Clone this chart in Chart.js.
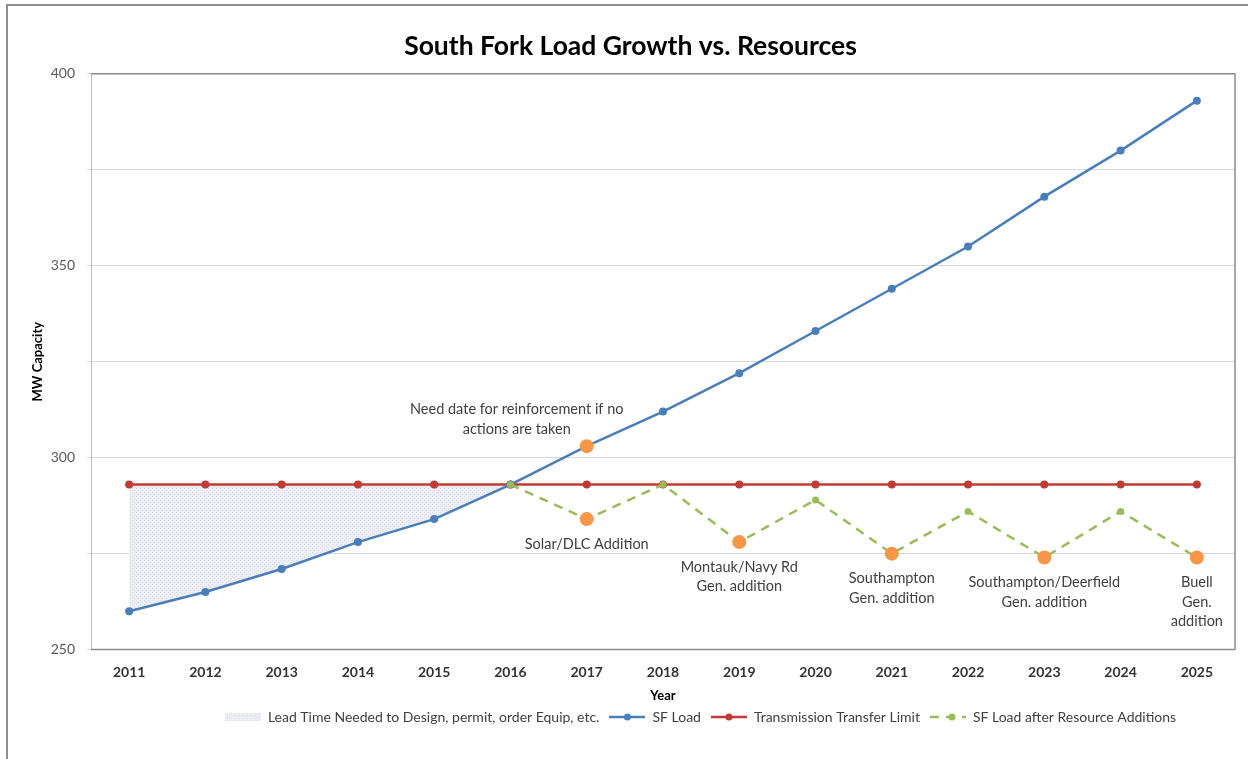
<!DOCTYPE html>
<html>
<head>
<meta charset="utf-8">
<title>South Fork Load Growth vs. Resources</title>
<script src="https://cdn.jsdelivr.net/npm/chart.js@4.4.1/dist/chart.umd.min.js"></script>
<style>
  html, body { margin: 0; padding: 0; background: #fff; }
  #wrap { width: 1248px; height: 759px; }
</style>
</head>
<body>
<div id="wrap"><canvas id="loadChart" width="1248" height="759"></canvas></div>
<script>
// chart data
const years = ['2011', '2012', '2013', '2014', '2015', '2016', '2017', '2018', '2019', '2020', '2021', '2022', '2023', '2024', '2025'];
const sfLoad = [260, 265, 271, 278, 284, 293, 303, 312, 322, 333, 344, 355, 368, 380, 393];
const transferLimit = [293, 293, 293, 293, 293, 293, 293, 293, 293, 293, 293, 293, 293, 293, 293];
const afterAdditions = [null, null, null, null, null, 293, 284, 293, 278, 289, 275, 286, 274, 286, 274];
const leadTimeEnd = '2016';

const needDateYear = '2017';
const needDateLabel = ['Need date for reinforcement if no', 'actions are taken'];
const additionYears = ['2017', '2019', '2021', '2023', '2025'];
const additionLabels = [
  ['Solar/DLC Addition'],
  ['Montauk/Navy Rd', 'Gen. addition'],
  ['Southampton', 'Gen. addition'],
  ['Southampton/Deerfield', 'Gen. addition'],
  ['Buell', 'Gen.', 'addition']
];

const FONT = 'Lato, "Open Sans", sans-serif';
const BLUE = '#4a7ebb';
const RED = '#be3b36';
const GREEN = '#9bbb59';
const ORANGE = '#f79646';
const TEXT = '#404040';

// shaded lead time region = transfer limit up to the lead time end year
const leadIdx = years.indexOf(leadTimeEnd);
const leadTime = transferLimit.map((v, i) => i <= leadIdx ? v : null);

// light lavender dotted fill
function makeHatch() {
  const c = document.createElement('canvas');
  c.width = 4; c.height = 4;
  const g = c.getContext('2d');
  g.fillStyle = '#ededf4';
  g.fillRect(0, 0, 4, 4);
  g.fillStyle = '#dadae6';
  g.fillRect(0, 0, 1, 1);
  g.fillRect(2, 2, 1, 1);
  return g.createPattern(c, 'repeat');
}
const hatch = makeHatch();

// legend swatches
function legendIcon(kind) {
  const c = document.createElement('canvas');
  c.width = 36; c.height = 10;
  const g = c.getContext('2d');
  if (kind === 'fill') {
    g.fillStyle = hatch;
    g.fillRect(0, 1, 36, 8);
    return c;
  }
  const color = kind === 'blue' ? BLUE : kind === 'red' ? RED : GREEN;
  g.strokeStyle = color;
  g.lineWidth = 2.5;
  if (kind === 'green') g.setLineDash([9, 7]);
  g.beginPath();
  g.moveTo(0, 5); g.lineTo(36, 5);
  g.stroke();
  g.fillStyle = color;
  g.beginPath();
  g.arc(kind === 'green' ? 22 : 18, 5, 3.5, 0, Math.PI * 2);
  g.fill();
  return c;
}

const isAddition = i => additionYears.includes(years[i]);

// white background, outer frame and plot border
const framePlugin = {
  id: 'frame',
  beforeDraw(chart) {
    const ctx = chart.ctx;
    ctx.save();
    ctx.fillStyle = '#fff';
    ctx.fillRect(0, 0, chart.width, chart.height);
    ctx.strokeStyle = '#8f8f8f';
    ctx.lineWidth = 2;
    ctx.beginPath();
    ctx.moveTo(7, chart.height);
    ctx.lineTo(7, 5);
    ctx.lineTo(chart.width, 5);
    ctx.stroke();
    ctx.restore();
  },
  beforeDatasetsDraw(chart) {
    const {ctx, chartArea: a} = chart;
    ctx.save();
    ctx.strokeStyle = '#8c8c8c';
    ctx.lineWidth = 1.5;
    ctx.beginPath();
    ctx.moveTo(a.left, a.top);
    ctx.lineTo(a.right, a.top);
    ctx.lineTo(a.right, a.bottom);
    ctx.lineTo(a.left, a.bottom);
    ctx.stroke();
    ctx.restore();
  }
};

// text callouts under the resource addition points
const calloutPlugin = {
  id: 'callouts',
  afterDatasetsDraw(chart) {
    const {ctx, scales: {x, y}} = chart;
    ctx.save();
    ctx.font = '14.5px ' + FONT;
    ctx.fillStyle = TEXT;
    ctx.textAlign = 'center';
    ctx.textBaseline = 'middle';

    const ni = years.indexOf(needDateYear);
    const nx = x.getPixelForValue(ni) - 70;
    const ny = y.getPixelForValue(sfLoad[ni]);
    needDateLabel.forEach((t, k) => ctx.fillText(t, nx, ny - 37 + k * 20));

    additionYears.forEach((yr, j) => {
      const i = years.indexOf(yr);
      const px = x.getPixelForValue(i);
      const py = y.getPixelForValue(afterAdditions[i]);
      additionLabels[j].forEach((t, k) => ctx.fillText(t, px, py + 25 + k * 19.5));
    });
    ctx.restore();
  }
};

// center the title over the plot and nudge the legend row right
const blockShift = {
  id: 'blockShift',
  afterLayout(chart) {
    chart.titleBlock.left += 13;
    chart.titleBlock.right += 13;
    chart.legend.left += 83;
    chart.legend.right += 83;
  }
};

new Chart(document.getElementById('loadChart'), {
  type: 'line',
  data: {
    labels: years,
    datasets: [
      {
        label: 'Lead Time Needed to Design, permit, order Equip, etc.',
        data: leadTime,
        borderWidth: 0,
        pointRadius: 0,
        backgroundColor: hatch,
        fill: 1,
        order: 4
      },
      {
        label: 'SF Load',
        data: sfLoad,
        borderColor: BLUE,
        borderWidth: 2.5,
        pointRadius: ctx => years[ctx.dataIndex] === needDateYear ? 7 : 4,
        pointBackgroundColor: ctx => years[ctx.dataIndex] === needDateYear ? ORANGE : BLUE,
        pointBorderWidth: 0,
        fill: false,
        order: 2
      },
      {
        label: 'Transmission Transfer Limit',
        data: transferLimit,
        borderColor: RED,
        borderWidth: 2.5,
        pointRadius: 4,
        pointBackgroundColor: RED,
        pointBorderWidth: 0,
        fill: false,
        order: 3
      },
      {
        label: 'SF Load after Resource Additions',
        data: afterAdditions,
        borderColor: GREEN,
        borderWidth: 2.5,
        borderDash: [9, 7],
        pointRadius: ctx => isAddition(ctx.dataIndex) ? 7 : 3.5,
        pointBackgroundColor: ctx => isAddition(ctx.dataIndex) ? ORANGE : GREEN,
        pointBorderWidth: 0,
        fill: false,
        order: 1
      }
    ]
  },
  options: {
    responsive: false,
    animation: false,
    layout: { padding: { left: 0, right: 13, top: 0, bottom: 25 } },
    plugins: {
      title: {
        display: true,
        text: 'South Fork Load Growth vs. Resources',
        color: '#000',
        font: { family: FONT, size: 26.5, weight: 'bold' },
        padding: { top: 31, bottom: 11 }
      },
      legend: {
        position: 'bottom',
        labels: {
          color: TEXT,
          font: { family: FONT, size: 14 },
          usePointStyle: true,
          pointStyleWidth: 36,
          padding: 10,
          generateLabels: () => [
            ['Lead Time Needed to Design, permit, order Equip, etc.', 'fill', 0],
            ['SF Load', 'blue', 1],
            ['Transmission Transfer Limit', 'red', 2],
            ['SF Load after Resource Additions', 'green', 3]
          ].map(([text, kind, idx]) => ({
            text,
            pointStyle: legendIcon(kind),
            fillStyle: 'transparent',
            strokeStyle: 'transparent',
            lineWidth: 0,
            fontColor: TEXT,
            hidden: false,
            datasetIndex: idx
          }))
        }
      },
      tooltip: { enabled: false }
    },
    scales: {
      x: {
        offset: true,
        grid: { display: false, drawTicks: false },
        border: { display: false },
        ticks: { color: '#333', font: { family: FONT, size: 14, weight: 'bold' }, padding: 14 },
        title: {
          display: true,
          text: 'Year',
          color: '#000',
          font: { family: FONT, size: 13, weight: 'bold' },
          padding: { top: -6, bottom: -4 }
        }
      },
      y: {
        min: 250,
        max: 400,
        grid: { color: '#d9d9d9', tickLength: 4 },
        border: { color: '#bfbfbf' },
        ticks: {
          stepSize: 25,
          color: '#595959',
          font: { family: FONT, size: 14 },
          padding: 12,
          callback: v => v % 50 === 0 ? v : ''
        },
        title: {
          display: true,
          text: 'MW Capacity',
          color: '#000',
          font: { family: FONT, size: 13, weight: 'bold' },
          padding: { top: 30, bottom: 0 }
        },
        afterFit: scale => { scale.width = 91; }
      }
    }
  },
  plugins: [framePlugin, calloutPlugin, blockShift]
});
</script>
</body>
</html>
